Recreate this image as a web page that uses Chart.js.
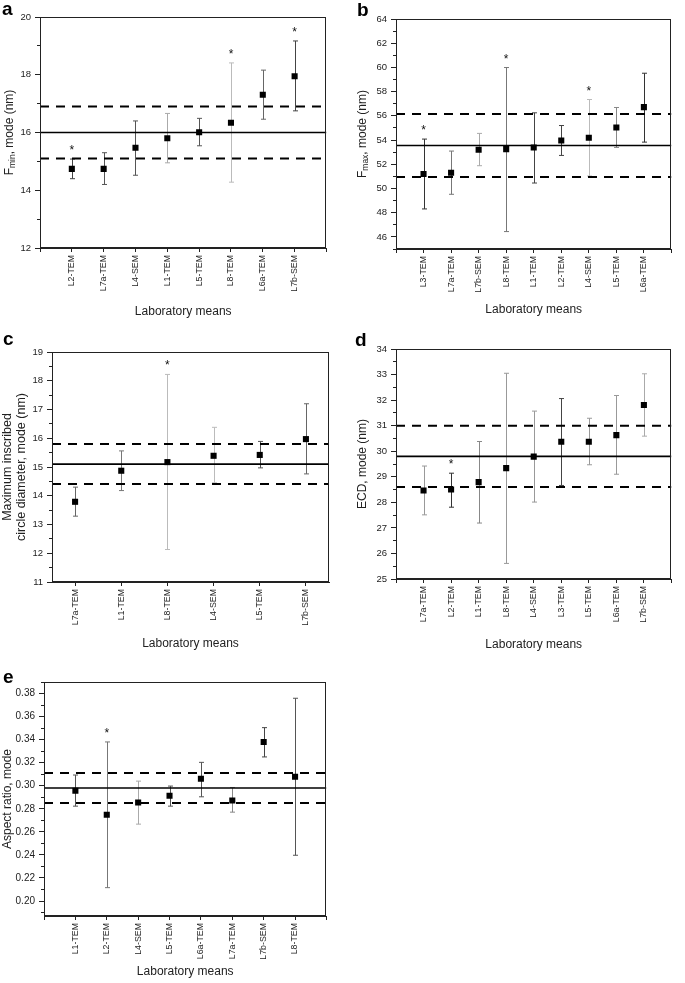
<!DOCTYPE html>
<html>
<head>
<meta charset="utf-8">
<script src="https://cdn.jsdelivr.net/npm/chart.js@4.4.1/dist/chart.umd.min.js"></script>
<style>
  body { margin: 0; background: #fff; width: 685px; height: 983px; position: relative; overflow: hidden; }
  canvas { position: absolute; }
</style>
</head>
<body>
<canvas id="panel_a" width="340" height="325" style="left:0;top:0"></canvas>
<canvas id="panel_b" width="345" height="325" style="left:340px;top:0"></canvas>
<canvas id="panel_c" width="340" height="325" style="left:0;top:330px"></canvas>
<canvas id="panel_d" width="345" height="325" style="left:340px;top:330px"></canvas>
<canvas id="panel_e" width="340" height="323" style="left:0;top:660px"></canvas>
<script>
// ---- a : Fmin
const labelsA = ['L2-TEM', 'L7a-TEM', 'L4-SEM', 'L1-TEM', 'L5-TEM', 'L8-TEM', 'L6a-TEM', 'L7b-SEM'];
const modeA = [14.74, 14.74, 15.47, 15.80, 16.01, 16.34, 17.31, 17.95];
const highA = [15.08, 15.30, 16.40, 16.66, 16.49, 18.41, 18.16, 19.17];
const lowA = [14.40, 14.20, 14.52, 14.95, 15.54, 14.28, 16.46, 16.75];
const starA = [1, 0, 0, 0, 0, 1, 0, 1];
const refA = [16.0, 16.9, 15.1];           // mean, upper, lower limit
const yTicksA = ['12', '14', '16', '18', '20'];
const yMinorA = [13, 15, 17, 19];

// ---- b : Fmax
const labelsB = ['L3-TEM', 'L7a-TEM', 'L7b-SEM', 'L8-TEM', 'L1-TEM', 'L2-TEM', 'L4-SEM', 'L5-TEM', 'L6a-TEM'];
const modeB = [51.20, 51.30, 53.20, 53.25, 53.39, 53.97, 54.19, 55.04, 56.72];
const highB = [54.08, 53.09, 54.55, 59.99, 56.25, 55.20, 57.35, 56.69, 59.52];
const lowB = [48.31, 49.52, 51.88, 46.44, 50.45, 52.73, 51.03, 53.39, 53.83];
const starB = [1, 0, 0, 1, 0, 0, 1, 0, 0];
const refB = [53.55, 56.15, 50.95];
const yTicksB = ['46', '48', '50', '52', '54', '56', '58', '60', '62', '64'];
const yMinorB = [45, 47, 49, 51, 53, 55, 57, 59, 61, 63];

// ---- c : maximum inscribed circle diameter
const labelsC = ['L7a-TEM', 'L1-TEM', 'L8-TEM', 'L4-SEM', 'L5-TEM', 'L7b-SEM'];
const modeC = [13.79, 14.87, 15.17, 15.39, 15.42, 15.97];
const highC = [14.30, 15.56, 18.22, 16.38, 15.89, 17.20];
const lowC = [13.29, 14.18, 12.13, 14.45, 14.97, 14.76];
const starC = [0, 0, 1, 0, 0, 0];
const refC = [15.10, 15.80, 14.41];
const yTicksC = ['11', '12', '13', '14', '15', '16', '17', '18', '19'];
const yMinorC = [11.5, 12.5, 13.5, 14.5, 15.5, 16.5, 17.5, 18.5];

// ---- d : ECD
const labelsD = ['L7a-TEM', 'L2-TEM', 'L1-TEM', 'L8-TEM', 'L4-SEM', 'L3-TEM', 'L5-TEM', 'L6a-TEM', 'L7b-SEM'];
const modeD = [28.46, 28.50, 28.79, 29.34, 29.79, 30.37, 30.37, 30.63, 31.81];
const highD = [29.42, 29.14, 30.38, 33.05, 31.57, 32.06, 31.29, 32.18, 33.03];
const lowD = [27.51, 27.81, 27.19, 25.61, 28.01, 28.66, 29.47, 29.10, 30.59];
const starD = [0, 1, 0, 0, 0, 0, 0, 0, 0];
const refD = [29.8, 31.0, 28.6];
const yTicksD = ['25', '26', '27', '28', '29', '30', '31', '32', '33', '34'];
const yMinorD = [25.5, 26.5, 27.5, 28.5, 29.5, 30.5, 31.5, 32.5, 33.5];

// ---- e : aspect ratio
const labelsE = ['L1-TEM', 'L2-TEM', 'L4-SEM', 'L5-TEM', 'L6a-TEM', 'L7a-TEM', 'L7b-SEM', 'L8-TEM'];
const modeE = [0.2956, 0.2748, 0.2855, 0.2913, 0.3061, 0.2872, 0.3380, 0.3078];
const highE = [0.3093, 0.3380, 0.3040, 0.2997, 0.3203, 0.2985, 0.3504, 0.3759];
const lowE = [0.2823, 0.2116, 0.2667, 0.2823, 0.2904, 0.2771, 0.3250, 0.2397];
const starE = [0, 1, 0, 0, 0, 0, 0, 0];
const refE = [0.298, 0.311, 0.285];
const yTicksE = ['0.20', '0.22', '0.24', '0.26', '0.28', '0.30', '0.32', '0.34', '0.36', '0.38'];
const yMinorE = [0.19, 0.21, 0.23, 0.25, 0.27, 0.29, 0.31, 0.33, 0.35, 0.37, 0.39];

// error bar greys, as in the original figure
const shadeA = ['#444', '#555', '#555', '#aaa', '#555', '#bbb', '#666', '#444'];
const shadeB = ['#333', '#777', '#aaa', '#777', '#444', '#444', '#bbb', '#888', '#333'];
const shadeC = ['#666', '#777', '#bbb', '#bbb', '#555', '#666'];
const shadeD = ['#999', '#333', '#888', '#999', '#999', '#444', '#999', '#999', '#aaa'];
const shadeE = ['#555', '#777', '#aaa', '#555', '#555', '#888', '#444', '#555'];

Chart.defaults.font.family = '"Liberation Sans", Arial, sans-serif';
Chart.defaults.color = '#222';

const FONT = '"Liberation Sans", Arial, sans-serif';

function decor(p) {
    return {
        id: 'decor',
        beforeDatasetsDraw(chart) {
            const ctx = chart.ctx, xs = chart.scales.x, ys = chart.scales.y;
            ctx.save();
            ctx.lineWidth = 1;
            p.high.forEach((hi, i) => {
                const x = Math.round(xs.getPixelForValue(i + 1)) + 0.5;
                const yt = ys.getPixelForValue(hi), yb = ys.getPixelForValue(p.low[i]);
                ctx.strokeStyle = p.shade[i];
                ctx.beginPath();
                ctx.moveTo(x, yt); ctx.lineTo(x, yb);
                ctx.moveTo(x - 2.5, yt); ctx.lineTo(x + 2.5, yt);
                ctx.moveTo(x - 2.5, yb); ctx.lineTo(x + 2.5, yb);
                ctx.stroke();
            });
            ctx.restore();
        },
        afterDraw(chart) {
            const ctx = chart.ctx, a = chart.chartArea;
            const xs = chart.scales.x, ys = chart.scales.y;
            ctx.save();
            // frame
            ctx.strokeStyle = '#222';
            ctx.lineWidth = 1;
            ctx.strokeRect(Math.round(a.left) + 0.5, Math.round(a.top) + 0.5,
                Math.round(a.right - a.left) - 1, Math.round(a.bottom - a.top) - 1);
            // significance stars
            ctx.fillStyle = '#111';
            ctx.font = '12px ' + FONT;
            ctx.textAlign = 'center';
            p.star.forEach((s, i) => {
                if (!s) return;
                ctx.fillText('*', xs.getPixelForValue(i + 1), ys.getPixelForValue(p.high[i]) - 5);
            });
            // panel letter
            ctx.font = 'bold 19px ' + FONT;
            ctx.textAlign = 'left';
            ctx.fillStyle = '#000';
            ctx.fillText(p.letter, p.letterPos[0], p.letterPos[1]);
            // y axis title (with subscripts)
            const cy = (a.top + a.bottom) / 2;
            ctx.fillStyle = '#222';
            p.yTitle.forEach((line, li) => {
                const parts = line.map(seg => {
                    ctx.font = (seg.sub ? '8.5px ' : p.titleSize + 'px ') + FONT;
                    return { t: seg.t, sub: seg.sub, w: ctx.measureText(seg.t).width };
                });
                const total = parts.reduce((s, q) => s + q.w, 0);
                ctx.save();
                ctx.translate(p.yTitleX[li], cy);
                ctx.rotate(-Math.PI / 2);
                ctx.textBaseline = 'middle';
                let x = -total / 2;
                parts.forEach(q => {
                    ctx.font = (q.sub ? '8.5px ' : p.titleSize + 'px ') + FONT;
                    ctx.fillText(q.t, x, q.sub ? 3 : 0);
                    x += q.w;
                });
                ctx.restore();
            });
            ctx.restore();
        }
    };
}

function makePanel(id, p) {
    const canvas = document.getElementById(id);
    const W = canvas.width, H = canvas.height;
    const xMin = p.xRange[0], xMax = p.xRange[1];
    const line = v => [{ x: xMin, y: v }, { x: xMax, y: v }];
    const majors = p.yTicks.map(Number);
    const isMajor = v => majors.some(m => Math.abs(m - v) < 1e-9);

    return new Chart(canvas, {
        type: 'scatter',
        data: {
            datasets: [
                {
                    data: p.mode.map((v, i) => ({ x: i + 1, y: v })),
                    pointStyle: 'rect',
                    pointRadius: 4.3,
                    pointHoverRadius: 4.3,
                    backgroundColor: '#000',
                    borderWidth: 0,
                },
                { type: 'line', data: line(p.ref[0]), borderColor: '#000', borderWidth: 1.6, pointRadius: 0 },
                { type: 'line', data: line(p.ref[1]), borderColor: '#000', borderWidth: 2, borderDash: [9, 7], pointRadius: 0 },
                { type: 'line', data: line(p.ref[2]), borderColor: '#000', borderWidth: 2, borderDash: [9, 7], pointRadius: 0 },
            ]
        },
        options: {
            responsive: false,
            animation: false,
            events: [],
            layout: { padding: { left: 0, top: p.box[1], right: W - p.box[2], bottom: 0 } },
            plugins: {
                legend: { display: false },
                tooltip: { enabled: false },
            },
            scales: {
                x: {
                    type: 'linear',
                    min: xMin,
                    max: xMax,
                    afterBuildTicks: s => { s.ticks = p.xTicks.map(v => ({ value: v })); },
                    afterFit: s => { s.height = H - p.box[3]; },
                    ticks: {
                        autoSkip: false,
                        maxRotation: 90,
                        minRotation: 90,
                        padding: 3,
                        font: { size: 8.8 },
                        color: '#222',
                        callback: v => p.labels[v - 1] || '',
                    },
                    grid: { drawOnChartArea: false, tickLength: 4, color: '#222' },
                    border: { color: '#222' },
                    title: {
                        display: true,
                        text: 'Laboratory means',
                        font: { size: 12 },
                        color: '#222',
                        padding: { top: 0, bottom: p.xTitlePad },
                    },
                },
                y: {
                    min: p.yRange[0],
                    max: p.yRange[1],
                    afterBuildTicks: s => {
                        s.ticks = majors.concat(p.yMinor).sort((u, v) => u - v).map(v => ({ value: v }));
                    },
                    afterFit: s => { s.width = p.box[0]; },
                    ticks: {
                        autoSkip: false,
                        padding: 4,
                        font: { size: p.tickSize },
                        color: '#222',
                        callback: v => {
                            const k = majors.findIndex(m => Math.abs(m - v) < 1e-9);
                            return k >= 0 ? p.yTicks[k] : '';
                        },
                    },
                    grid: {
                        drawOnChartArea: false,
                        tickLength: 5,
                        color: '#222',
                        tickBorderDash: c => (c.tick && isMajor(c.tick.value)) ? [] : [0, 2, 3, 10],
                    },
                    border: { color: '#222' },
                }
            }
        },
        plugins: [decor(p)]
    });
}

const range = n => Array.from({ length: n }, (_, i) => i);

makePanel('panel_a', {
    labels: labelsA, mode: modeA, high: highA, low: lowA, star: starA, ref: refA, shade: shadeA,
    yTicks: yTicksA, yMinor: yMinorA, yRange: [12, 20], tickSize: 9.5,
    xRange: [0, 9], xTicks: range(10),
    box: [40, 17, 329, 248], xTitlePad: 6,
    letter: 'a', letterPos: [2, 15],
    yTitle: [[{ t: 'F' }, { t: 'min', sub: true }, { t: ', mode (nm)' }]], yTitleX: [10], titleSize: 12,
});

makePanel('panel_b', {
    labels: labelsB, mode: modeB, high: highB, low: lowB, star: starB, ref: refB, shade: shadeB,
    yTicks: yTicksB, yMinor: yMinorB, yRange: [45, 64], tickSize: 9.5,
    xRange: [0, 10], xTicks: range(11),
    box: [56, 19, 343, 249], xTitlePad: 8,
    letter: 'b', letterPos: [17, 16],
    yTitle: [[{ t: 'F' }, { t: 'max', sub: true }, { t: ', mode (nm)' }]], yTitleX: [23], titleSize: 12,
});

makePanel('panel_c', {
    labels: labelsC, mode: modeC, high: highC, low: lowC, star: starC, ref: refC, shade: shadeC,
    yTicks: yTicksC, yMinor: yMinorC, yRange: [11, 19], tickSize: 9.5,
    xRange: [0.5, 6.5], xTicks: [1, 2, 3, 4, 5, 6],
    box: [52, 22, 329, 252], xTitlePad: 4,
    letter: 'c', letterPos: [3, 15],
    yTitle: [[{ t: 'Maximum inscribed' }], [{ t: 'circle diameter, mode (nm)' }]], yTitleX: [8, 22], titleSize: 12.5,
});

makePanel('panel_d', {
    labels: labelsD, mode: modeD, high: highD, low: lowD, star: starD, ref: refD, shade: shadeD,
    yTicks: yTicksD, yMinor: yMinorD, yRange: [25, 34], tickSize: 9.5,
    xRange: [0, 10], xTicks: range(11),
    box: [56, 19, 341, 249], xTitlePad: 3,
    letter: 'd', letterPos: [15, 16],
    yTitle: [[{ t: 'ECD, mode (nm)' }]], yTitleX: [23], titleSize: 12,
});

makePanel('panel_e', {
    labels: labelsE, mode: modeE, high: highE, low: lowE, star: starE, ref: refE, shade: shadeE,
    yTicks: yTicksE, yMinor: yMinorE, yRange: [0.187, 0.39], tickSize: 10,
    xRange: [0, 9], xTicks: range(10),
    box: [44, 22, 328, 256], xTitlePad: 4,
    letter: 'e', letterPos: [3, 23],
    yTitle: [[{ t: 'Aspect ratio, mode' }]], yTitleX: [8], titleSize: 12,
});
</script>
</body>
</html>
